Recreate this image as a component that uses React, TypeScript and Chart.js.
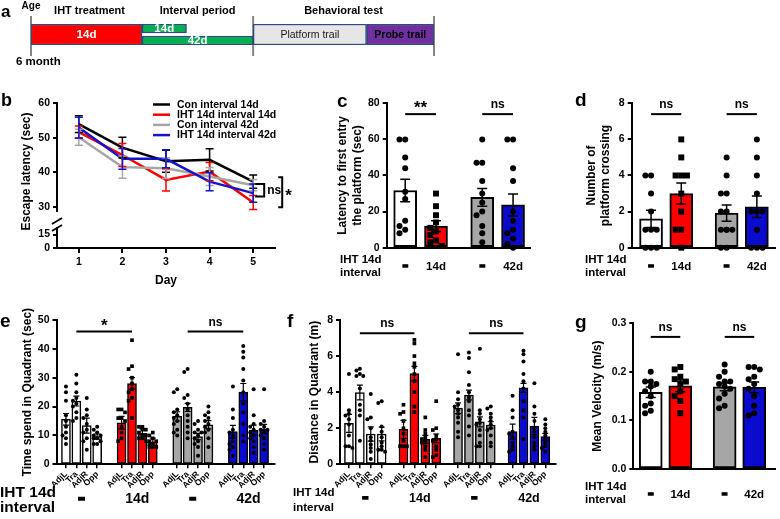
import React, { useEffect, useRef } from 'react';
import { Chart, registerables } from 'chart.js';

Chart.register(...registerables);

const FONT = '"Liberation Sans", Arial, Helvetica, sans-serif';
Chart.defaults.font.family = FONT;
Chart.defaults.color = '#000';
const font = (size: number, bold = true) => `${bold ? 'bold ' : ''}${size}px ${FONT}`;

/* ===================== DATA ===================== */
// Panel a – experimental timeline (schematic units)
const phaseLabels = ['14d', '14d', '42d', 'Platform trail', 'Probe trail'];
const phaseStart = [0, 14, 14, 28, 42.3];
const phaseEnd = [14, 19.6, 28, 42.3, 50.8];
const phaseRow = ['full', 'upper', 'lower', 'full', 'full'];
const phaseHeaders = ['IHT treatment', 'Interval period', 'Behavioral test'];
const phaseHeaderFrom = [0, 14, 28];
const phaseHeaderTo = [14, 28, 50.8];
const timelineMarks = [0, 28, 50.8];
const ageTitle = 'Age';
const ageStart = '6 month';

// Panel b – escape latency
const days = ['1', '2', '3', '4', '5'];
const groupNames = ['Con interval 14d', 'IHT 14d interval 14d', 'Con interval 42d', 'IHT 14d interval 42d'];
const escCon14 = [53.9, 47.1, 43.2, 43.6, 37.3];
const escIht14 = [51.6, 45.0, 37.8, 40.2, 31.3];
const escCon42 = [50.1, 41.5, 41.2, 38.8, 36.3];
const escIht42 = [52.9, 43.9, 43.9, 37.3, 34.0];
const semCon14 = [2.4, 3.0, 3.2, 3.2, 1.9];
const semIht14 = [1.8, 3.3, 3.2, 2.6, 2.0];
const semCon42 = [2.3, 3.2, 3.0, 2.6, 1.6];
const semIht42 = [3.0, 3.0, 2.6, 2.6, 2.6];
const escTicksTop = [30, 40, 50, 60];
const escTicksBottom = [0, 15];
const escSigHigh = [36.6, 38.6];
const escSigLow = [33.0, 29.9];
const escSigText = ['ns', '*'];
const escTitle = 'Escape latency (sec)';
const escXTitle = 'Day';

// shared group labels
const intervalLabels = ['-', '14d', '-', '42d'];
const ihtRowTitle = ['IHT 14d', 'interval'];
const quadrantLabels = ['AdjL', 'Tra', 'AdjR', 'Opp'];

// Panel c – latency to first entry
const latencyTitle = ['Latency to first entry', 'the platform (sec)'];
const latencyMeans = [31.7, 12.0, 27.9, 23.7];
const latencySem = [6.2, 3.0, 4.9, 6.1];
const latencyCon14 = [60, 60, 50, 44, 31, 27, 15, 12, 10, 8];
const latencyIht14 = [30, 23, 18, 14, 11, 9, 7, 4, 3, 1];
const latencyCon42 = [60, 47, 47, 37, 30, 25, 20, 18, 12, 8, 3];
const latencyIht42 = [60, 60, 44, 37, 20, 15, 10, 8, 5, 2, 0];
const latencyTicks = [0, 20, 40, 60, 80];
const latencySigY = [74, 74];
const latencySigText = ['**', 'ns'];

// Panel d – platform crossings
const crossTitle = ['Number of', 'platform crossing'];
const crossMeans = [1.6, 3.0, 1.92, 2.27];
const crossSem = [0.48, 0.58, 0.45, 0.6];
const crossCon14 = [4, 4, 3, 2, 1, 1, 1, 0, 0, 0];
const crossIht14 = [6, 5, 4, 4, 4, 3, 2, 1, 1, 0];
const crossCon42 = [5, 4, 3, 3, 2, 2, 1, 1, 1, 1, 0, 0];
const crossIht42 = [6, 5, 4, 3, 2, 2, 2, 1, 0, 0, 0];
const crossTicks = [0, 2, 4, 6, 8];
const crossSigY = [7.4, 7.4];
const crossSigText = ['ns', 'ns'];

// Panel e – time in quadrant (AdjL, Tra, AdjR, Opp per group)
const timeTitle = 'Time spend in Quadrant (sec)';
const timeMeans = [15.6, 21.9, 13.4, 9.6, 14.4, 28.0, 10.7, 7.8, 16.6, 19.7, 9.6, 13.7, 11.3, 25.0, 11.8, 12.2];
const timeSem = [2.0, 1.7, 2.6, 0.9, 2.2, 2.0, 1.6, 1.3, 1.6, 1.4, 1.1, 1.4, 2.2, 3.0, 1.8, 1.6];
const timeCon14 = [
  [27, 25, 22, 17, 15, 13, 11, 10, 9, 7],
  [31, 28, 25, 23, 22, 21, 20, 18, 16, 15],
  [23, 19, 17, 16, 14, 12, 11, 9, 8, 5],
  [13, 12, 11, 10, 10, 9, 9, 8, 7, 7],
];
const timeIht14 = [
  [19, 19, 18, 16, 16, 15, 13, 11, 9, 8],
  [43, 34, 33, 30, 28, 26, 25, 23, 22, 16],
  [13, 13, 12, 12, 11, 10, 10, 9, 9, 8],
  [11, 10, 9, 8, 8, 7, 7, 6, 6, 6],
];
const timeCon42 = [
  [26, 25, 19, 18, 17, 16, 15, 14, 12, 11, 10],
  [33, 32, 24, 23, 21, 19, 17, 15, 13, 11, 9],
  [15, 14, 12, 11, 11, 10, 9, 8, 7, 6, 3],
  [20, 18, 17, 16, 15, 14, 13, 12, 11, 9, 6],
];
const timeIht42 = [
  [27, 19, 16, 12, 11, 10, 8, 7, 6, 5, 3],
  [41, 39, 37, 33, 29, 25, 21, 18, 14, 10, 8],
  [26, 17, 14, 13, 12, 11, 10, 9, 8, 6, 4],
  [26, 15, 14, 13, 12, 12, 11, 10, 9, 7, 5],
];
const timeTicks = [0, 10, 20, 30, 40, 50];
const timeSigY = [46, 46];
const timeSigText = ['*', 'ns'];

// Panel f – distance in quadrant
const distTitle = 'Distance in Quadrant (m)';
const distMeans = [2.27, 3.98, 1.68, 1.68, 1.94, 5.03, 1.38, 1.44, 3.11, 3.84, 2.35, 2.18, 1.81, 4.24, 2.12, 1.53];
const distSem = [0.5, 0.41, 0.4, 0.38, 0.5, 0.4, 0.22, 0.24, 0.3, 0.27, 0.28, 0.18, 0.42, 0.25, 0.48, 0.19];
const distCon14 = [
  [5.0, 3.0, 2.8, 2.7, 2.5, 2.2, 1.6, 1.0, 1.0, 0.9],
  [5.3, 5.2, 5.0, 4.9, 4.9, 4.2, 3.3, 3.0, 2.7, 1.3],
  [3.9, 2.6, 2.5, 2.0, 1.5, 1.3, 1.1, 0.9, 0.7, 0.3],
  [3.5, 3.4, 2.1, 1.8, 1.5, 1.2, 1.0, 0.8, 0.8, 0.7],
];
const distIht14 = [
  [3.3, 2.9, 2.8, 2.4, 2.0, 1.7, 1.3, 1.0, 1.0, 1.0],
  [6.9, 6.7, 6.0, 5.6, 5.4, 5.0, 4.6, 4.0, 3.2, 2.9],
  [2.6, 1.9, 1.7, 1.5, 1.4, 1.3, 1.2, 1.0, 0.8, 0.4],
  [3.5, 2.0, 1.9, 1.6, 1.4, 1.3, 1.0, 0.8, 0.5, 0.4],
];
const distCon42 = [
  [6.1, 4.0, 3.6, 3.3, 3.2, 3.0, 2.8, 2.6, 2.3, 1.8, 1.5],
  [6.2, 5.9, 5.1, 4.4, 4.0, 3.7, 3.5, 3.0, 2.7, 2.1, 1.6],
  [6.4, 3.0, 2.8, 2.5, 2.3, 2.2, 1.9, 1.6, 1.2, 1.0, 1.0],
  [3.2, 3.1, 2.8, 2.6, 2.4, 2.2, 2.0, 1.9, 1.6, 1.2, 1.0],
];
const distIht42 = [
  [3.8, 3.0, 2.6, 1.8, 1.7, 1.5, 1.2, 1.0, 0.8, 0.7],
  [6.3, 6.1, 5.7, 5.0, 4.6, 4.2, 3.5, 3.0, 2.6, 1.4],
  [4.5, 3.2, 2.8, 2.4, 2.0, 1.8, 1.5, 1.2, 1.0, 0.8],
  [2.5, 2.2, 2.0, 1.8, 1.6, 1.4, 1.2, 1.0, 0.9, 0.7],
];
const distTicks = [0, 2, 4, 6, 8];
const distSigY = [7.26, 7.26];
const distSigText = ['ns', 'ns'];

// Panel g – mean velocity
const velTitle = 'Mean Velocity (m/s)';
const velMeans = [0.158, 0.171, 0.169, 0.168];
const velSem = [0.011, 0.012, 0.008, 0.011];
const velCon14 = [0.2, 0.18, 0.18, 0.175, 0.17, 0.16, 0.15, 0.135, 0.13, 0.12, 0.115];
const velIht14 = [0.21, 0.205, 0.19, 0.185, 0.18, 0.175, 0.16, 0.15, 0.14, 0.115];
const velCon42 = [0.215, 0.2, 0.19, 0.18, 0.18, 0.175, 0.17, 0.165, 0.155, 0.145, 0.13, 0.125];
const velIht42 = [0.21, 0.21, 0.205, 0.19, 0.185, 0.175, 0.165, 0.15, 0.13, 0.11, 0.115];
const velTicks = [0, 0.1, 0.2, 0.3];
const velSigY = [0.272, 0.272];
const velSigText = ['ns', 'ns'];

/* ===================== STYLE ===================== */
const groupFills = ['#ffffff', '#ff0000', '#a6a6a6', '#0b0bd0'];
const groupShapes = ['circle', 'rect', 'circle', 'circle'];
const lineColors = ['#000000', '#ff0000', '#a6a6a6', '#1414c8'];

const pairPositions = [0, 1].flatMap((g) => [0, 1].map((m) => g * 2.5 + m));
const quadPositions = (gap: number) => [0, 1, 2, 3].flatMap((g) => [0, 1, 2, 3].map((m) => g * gap + m));
const quadCenters = (gap: number) => [0, 1, 2, 3].map((g) => g * gap + 1.5);
const perBar = (arr: any[]) => arr.flatMap((v) => [v, v, v, v]);

/* ===================== HELPERS ===================== */
function swarm(values: number[], center: number, pxX: number, pxY: number, diam: number, halfPx: number) {
  const placed: { dx: number; py: number }[] = [];
  const out: any[] = new Array(values.length);
  const order = values.map((_, i) => i).sort((a, b) => values[b] - values[a] || a - b);
  const step = diam * 0.95;
  for (const i of order) {
    const py = values[i] * pxY;
    const cands: number[] = [0];
    for (let k = 1; k * step <= halfPx + 0.01; k++) cands.push(-k * step, k * step);
    let best = 0;
    let bestGap = -1;
    for (const c of cands) {
      let minD = Infinity;
      for (const p of placed) minD = Math.min(minD, Math.hypot(p.dx - c, p.py - py));
      if (minD >= diam) {
        best = c;
        break;
      }
      if (minD > bestGap) {
        bestGap = minD;
        best = c;
      }
    }
    placed.push({ dx: best, py });
    out[i] = { x: center + best / pxX, y: values[i] };
  }
  return out;
}

function ChartBox({ left, top, width, height, build }: any) {
  const ref = useRef<HTMLCanvasElement>(null);
  useEffect(() => {
    const chart = new Chart(ref.current as HTMLCanvasElement, build());
    return () => chart.destroy();
  }, []);
  return (
    <canvas
      ref={ref}
      width={width}
      height={height}
      style={{ position: 'absolute', left, top, width, height }}
    />
  );
}

/* ===================== PANEL a ===================== */
function timelineConfig() {
  const W = 460;
  const H = 72;
  const area = { left: 31, top: 24, right: 434, bottom: 45 };
  const fills = ['#ff0000', '#00b050', '#00b050', '#e7e6e6', '#7030a0'];
  const textColor = ['#ffffff', '#ffffff', '#ffffff', '#1a1a1a', '#000000'];
  const textFont = [font(11.5), font(11.5), font(11.5), font(10.5, false), font(10.5)];
  const rowY: any = { full: 0.5, upper: 0.786, lower: 0.214 };
  const rowThick: any = { full: 21, upper: 9, lower: 9 };
  const datasets = ['full', 'upper', 'lower'].map((k) => {
    const idx = phaseRow.map((r, i) => (r === k ? i : -1)).filter((i) => i >= 0);
    return {
      type: 'bar',
      data: idx.map((i) => ({ x: [phaseStart[i], phaseEnd[i]], y: rowY[k] })),
      backgroundColor: idx.map((i) => fills[i]),
      borderColor: '#2f4b7c',
      borderWidth: 1.5,
      borderSkipped: false,
      barThickness: rowThick[k],
      grouped: false,
      phaseIdx: idx,
    };
  });
  const deco = {
    id: 'timelineDeco',
    beforeDatasetsDraw(chart: any) {
      const { ctx, chartArea: ca } = chart;
      const xs = chart.scales.x;
      ctx.save();
      ctx.strokeStyle = '#858585';
      ctx.lineWidth = 2;
      timelineMarks.forEach((v) => {
        const px = xs.getPixelForValue(v);
        ctx.beginPath();
        ctx.moveTo(px, ca.top - 8);
        ctx.lineTo(px, ca.bottom + 11);
        ctx.stroke();
      });
      ctx.restore();
    },
    afterDatasetsDraw(chart: any) {
      const { ctx, chartArea: ca } = chart;
      const xs = chart.scales.x;
      ctx.save();
      chart.data.datasets.forEach((ds: any, di: number) => {
        const meta = chart.getDatasetMeta(di);
        meta.data.forEach((el: any, j: number) => {
          const idx = ds.phaseIdx[j];
          const p = el.getProps(['x', 'base', 'y'], true);
          ctx.fillStyle = textColor[idx];
          ctx.font = textFont[idx];
          ctx.textAlign = 'center';
          ctx.textBaseline = 'middle';
          ctx.fillText(phaseLabels[idx], (p.x + p.base) / 2, p.y + 0.5);
        });
      });
      ctx.fillStyle = '#000';
      ctx.font = font(11);
      ctx.textAlign = 'center';
      ctx.textBaseline = 'middle';
      phaseHeaders.forEach((t, i) => {
        const px = (xs.getPixelForValue(phaseHeaderFrom[i]) + xs.getPixelForValue(phaseHeaderTo[i])) / 2;
        ctx.fillText(t, px + (i === 0 ? 3 : 0), ca.top - 13);
      });
      const x0 = xs.getPixelForValue(timelineMarks[0]);
      ctx.font = font(10);
      ctx.fillText(ageTitle, x0, ca.top - 18);
      ctx.font = font(11.5);
      ctx.textAlign = 'left';
      ctx.fillText(ageStart, x0 - 15, ca.bottom + 17);
      ctx.font = font(17);
      ctx.fillText('a', 1, 12);
      ctx.restore();
    },
  };
  return {
    type: 'bar',
    data: { datasets },
    options: {
      indexAxis: 'y',
      responsive: false,
      animation: false,
      events: [],
      layout: { padding: { left: area.left, right: W - area.right, top: area.top, bottom: H - area.bottom } },
      plugins: { legend: { display: false }, tooltip: { enabled: false } },
      scales: {
        x: { type: 'linear', min: phaseStart[0], max: phaseEnd[4], display: false },
        y: { type: 'linear', min: 0, max: 1, display: false, offset: false },
      },
    },
    plugins: [deco],
  };
}

/* ===================== PANEL b ===================== */
function escapeConfig() {
  const W = 310;
  const H = 210;
  const xAxisH = 40;
  const area = { left: 57, top: 23, right: 275, bottom: 168 };
  const series = [escCon14, escIht14, escCon42, escIht42];
  const sems = [semCon14, semIht14, semCon42, semIht42];
  const datasets = series.map((d, i) => ({
    type: 'line',
    label: groupNames[i],
    data: d,
    borderColor: lineColors[i],
    backgroundColor: lineColors[i],
    borderWidth: 2.5,
    pointRadius: 0,
    tension: 0,
    yAxisID: 'y',
    sem: sems[i],
    order: 4 - i,
  }));
  const yCommon = {
    type: 'linear',
    position: 'left',
    stack: 'esc',
    afterFit: (sc: any) => {
      sc.width = area.left;
    },
    border: { display: true, color: '#000', width: 2 },
    grid: { display: true, drawOnChartArea: false, drawTicks: true, tickLength: 4, color: '#000', lineWidth: 2 },
    ticks: { font: { size: 10.5, weight: 'bold' }, color: '#000', padding: 3 },
  };
  const deco = {
    id: 'escDeco',
    afterDatasetsDraw(chart: any) {
      const { ctx } = chart;
      const ys = chart.scales.y;
      ctx.save();
      chart.data.datasets.forEach((ds: any, i: number) => {
        const meta = chart.getDatasetMeta(i);
        ctx.strokeStyle = ds.borderColor;
        ctx.lineWidth = 1.5;
        meta.data.forEach((pt: any, j: number) => {
          const yt = ys.getPixelForValue(ds.data[j] + ds.sem[j]);
          const yb = ys.getPixelForValue(ds.data[j] - ds.sem[j]);
          ctx.beginPath();
          ctx.moveTo(pt.x, yt);
          ctx.lineTo(pt.x, yb);
          ctx.moveTo(pt.x - 4, yt);
          ctx.lineTo(pt.x + 4, yt);
          ctx.moveTo(pt.x - 4, yb);
          ctx.lineTo(pt.x + 4, yb);
          ctx.stroke();
        });
      });
      ctx.restore();
    },
    afterDraw(chart: any) {
      const { ctx, chartArea: ca } = chart;
      const ys = chart.scales.y;
      const xs = chart.scales.x;
      ctx.save();
      // axis break
      ctx.fillStyle = '#fff';
      ctx.fillRect(ca.left - 3, ys.bottom - 4, 6, 15);
      ctx.strokeStyle = '#000';
      ctx.lineWidth = 1.8;
      [ys.bottom + 5, ys.bottom + 12].forEach((c) => {
        ctx.beginPath();
        ctx.moveTo(ca.left - 5, c + 3);
        ctx.lineTo(ca.left + 5, c - 3);
        ctx.stroke();
      });
      // significance brackets at day 5
      const x5 = xs.getPixelForValue(days.length - 1);
      const br = [
        { x0: x5 + 2, x1: x5 + 11, tx: x5 + 14 },
        { x0: x5 + 25, x1: x5 + 29, tx: x5 + 32 },
      ];
      ctx.lineWidth = 2;
      ctx.fillStyle = '#000';
      escSigText.forEach((t, i) => {
        const yh = ys.getPixelForValue(escSigHigh[i]);
        const yl = ys.getPixelForValue(escSigLow[i]);
        ctx.beginPath();
        ctx.moveTo(br[i].x0, yh);
        ctx.lineTo(br[i].x1, yh);
        ctx.lineTo(br[i].x1, yl);
        ctx.lineTo(br[i].x0, yl);
        ctx.stroke();
        const star = t.includes('*');
        ctx.font = font(star ? 17 : 12);
        ctx.textAlign = 'left';
        ctx.textBaseline = 'middle';
        ctx.fillText(t, br[i].tx, (yh + yl) / 2 + (star ? 4 : 0));
      });
      // legend
      const lx = ca.left + 96;
      groupNames.forEach((n, i) => {
        const ly = ca.top + 1.5 + i * 10.2;
        ctx.strokeStyle = lineColors[i];
        ctx.lineWidth = 2.5;
        ctx.beginPath();
        ctx.moveTo(lx, ly);
        ctx.lineTo(lx + 17, ly);
        ctx.stroke();
        ctx.fillStyle = '#000';
        ctx.font = font(10.5);
        ctx.textAlign = 'left';
        ctx.textBaseline = 'middle';
        ctx.fillText(n, lx + 24, ly + 0.5);
      });
      // y title
      ctx.save();
      ctx.translate(ca.left - 30, (ca.top + ca.bottom) / 2 - 4);
      ctx.rotate(-Math.PI / 2);
      ctx.font = font(12);
      ctx.textAlign = 'center';
      ctx.textBaseline = 'middle';
      ctx.fillText(escTitle, 0, 0);
      ctx.restore();
      // panel letter
      ctx.font = font(18);
      ctx.textAlign = 'left';
      ctx.textBaseline = 'middle';
      ctx.fillText('b', 1, 21);
      ctx.restore();
    },
  };
  return {
    type: 'line',
    data: { labels: days, datasets },
    options: {
      responsive: false,
      animation: false,
      events: [],
      layout: { padding: { left: 0, top: area.top, right: W - area.right, bottom: H - area.bottom - xAxisH } },
      plugins: { legend: { display: false }, tooltip: { enabled: false } },
      scales: {
        x: {
          type: 'category',
          offset: true,
          afterFit: (sc: any) => {
            sc.height = xAxisH;
          },
          border: { display: true, color: '#000', width: 2 },
          grid: { display: true, drawOnChartArea: false, offset: false, tickLength: 5, color: '#000', lineWidth: 2 },
          ticks: { font: { size: 10.5, weight: 'bold' }, color: '#000', padding: 3 },
          title: { display: true, text: escXTitle, font: { size: 12, weight: 'bold' }, color: '#000', padding: { top: 0, bottom: 0 } },
        },
        yLow: {
          ...yCommon,
          stackWeight: 32,
          min: 0,
          max: 35.8,
          afterBuildTicks: (sc: any) => {
            sc.ticks = escTicksBottom.map((v) => ({ value: v }));
          },
        },
        y: {
          ...yCommon,
          stackWeight: 113,
          min: 27.4,
          max: 60,
          afterBuildTicks: (sc: any) => {
            sc.ticks = escTicksTop.map((v) => ({ value: v }));
          },
        },
      },
    },
    plugins: [deco],
  };
}

/* ===================== BAR PANELS (c–g) ===================== */
function barPanelConfig(s: any) {
  const { area, W, H } = s;
  const aw = area.right - area.left;
  const ah = area.bottom - area.top;
  const pxX = aw / (s.xMax - s.xMin);
  const pxY = ah / (s.yMax - s.yMin);
  const bars = {
    type: 'bar',
    data: s.positions.map((x: number, i: number) => ({ x, y: s.means[i] })),
    backgroundColor: s.fills,
    borderColor: '#000',
    borderWidth: s.barBorder,
    borderSkipped: false,
    barThickness: s.barThickness,
    order: 3,
  };
  const dotSets = s.dots.map((vals: number[], i: number) => ({
    type: 'scatter',
    data: swarm(vals, s.positions[i], pxX, pxY, s.dotDiam, s.swarmHalf),
    pointStyle: s.shapes[i],
    pointRadius: s.shapes[i] === 'rect' ? s.rectR : s.dotR,
    pointBackgroundColor: '#000',
    pointBorderColor: '#000',
    pointBorderWidth: 0,
    clip: false,
    order: 1,
  }));
  const deco = {
    id: 'barDeco',
    afterDatasetsDraw(chart: any) {
      const { ctx } = chart;
      const xs = chart.scales.x;
      const ys = chart.scales.y;
      ctx.save();
      ctx.strokeStyle = '#000';
      ctx.lineWidth = s.errWidth;
      s.positions.forEach((p: number, i: number) => {
        const x = xs.getPixelForValue(p);
        const yt = ys.getPixelForValue(s.means[i] + s.sems[i]);
        const yb = ys.getPixelForValue(s.means[i] - s.sems[i]);
        ctx.beginPath();
        ctx.moveTo(x, yt);
        ctx.lineTo(x, yb);
        ctx.moveTo(x - s.capHalf, yt);
        ctx.lineTo(x + s.capHalf, yt);
        ctx.moveTo(x - s.capHalf, yb);
        ctx.lineTo(x + s.capHalf, yb);
        ctx.stroke();
      });
      ctx.restore();
    },
    afterDraw(chart: any) {
      const { ctx, chartArea: ca } = chart;
      const xs = chart.scales.x;
      const ys = chart.scales.y;
      ctx.save();
      ctx.strokeStyle = '#000';
      ctx.fillStyle = '#000';
      ctx.lineWidth = 2;
      s.sigFrom.forEach((f: number, i: number) => {
        const x1 = xs.getPixelForValue(s.positions[f]);
        const x2 = xs.getPixelForValue(s.positions[s.sigTo[i]]);
        const y = ys.getPixelForValue(s.sigY[i]);
        ctx.beginPath();
        ctx.moveTo(x1, y);
        ctx.lineTo(x2, y);
        ctx.stroke();
        const star = s.sigText[i].includes('*');
        ctx.font = font(star ? 17 : 12);
        ctx.textAlign = 'center';
        ctx.textBaseline = 'alphabetic';
        ctx.fillText(s.sigText[i], (x1 + x2) / 2, star ? y - 1 : y - 6);
      });
      ctx.textBaseline = 'middle';
      ctx.textAlign = 'center';
      s.groupLabels.forEach((t: string, g: number) => {
        const x = xs.getPixelForValue(s.groupCenters[g]);
        const dash = t === '-';
        ctx.font = font(dash ? s.groupFont * 1.6 : s.groupFont);
        const y = ca.bottom + s.groupDy + (dash ? -1 : 0);
        ctx.fillText(t, x, y);
        if (dash) {
          ctx.lineWidth = 1.3;
          ctx.strokeText(t, x, y);
        }
      });
      ctx.textAlign = 'left';
      ctx.font = font(s.ihtFont);
      ihtRowTitle.forEach((t, k) => ctx.fillText(t, ca.left + s.ihtDx, ca.bottom + s.ihtDy[k]));
      ctx.font = font(s.letterSize);
      ctx.fillText(s.letter, s.letterX, s.letterY);
      ctx.restore();
    },
  };
  const xScale = s.quad
    ? {
        type: 'linear',
        min: s.xMin,
        max: s.xMax,
        offset: false,
        afterBuildTicks: (sc: any) => {
          sc.ticks = s.positions.map((v: number) => ({ value: v }));
        },
        afterFit: (sc: any) => {
          sc.height = s.xAxisH;
        },
        ticks: {
          autoSkip: false,
          minRotation: 45,
          maxRotation: 45,
          padding: 1,
          font: { size: s.tickFont, weight: 'bold' },
          color: '#000',
          callback: (_v: any, i: number) => s.tickLabels[i],
        },
        grid: { display: true, drawOnChartArea: false, drawTicks: true, offset: false, tickLength: 4, color: '#000', lineWidth: 1.5 },
        border: { display: true, color: '#000', width: 2 },
      }
    : {
        type: 'linear',
        min: s.xMin,
        max: s.xMax,
        offset: false,
        afterFit: (sc: any) => {
          sc.height = s.xAxisH;
        },
        ticks: { display: false },
        grid: { display: false, drawTicks: false, offset: false },
        border: { display: true, color: '#000', width: 2 },
      };
  return {
    type: 'bar',
    data: { datasets: [bars, ...dotSets] },
    options: {
      responsive: false,
      animation: false,
      events: [],
      layout: { padding: { left: 0, top: area.top, right: W - area.right, bottom: H - area.bottom - s.xAxisH } },
      plugins: { legend: { display: false }, tooltip: { enabled: false } },
      scales: {
        x: xScale,
        y: {
          type: 'linear',
          min: s.yMin,
          max: s.yMax,
          afterBuildTicks: (sc: any) => {
            sc.ticks = s.yTicks.map((v: number) => ({ value: v }));
          },
          afterFit: (sc: any) => {
            sc.width = area.left;
          },
          border: { display: true, color: '#000', width: 2 },
          grid: { display: true, drawOnChartArea: false, drawTicks: true, tickLength: 4, color: '#000', lineWidth: 2 },
          ticks: {
            font: { size: s.yTickFont, weight: 'bold' },
            color: '#000',
            padding: 3,
            callback: (v: any) => (s.yFmt ? s.yFmt(v) : String(v)),
          },
          title: {
            display: true,
            text: s.yTitle,
            font: { size: 12, weight: 'bold' },
            color: '#000',
            padding: { top: s.yTitlePad, bottom: 0 },
          },
        },
      },
    },
    plugins: [deco],
  };
}

const wideBarStyle = {
  barThickness: 23,
  barBorder: 2,
  errWidth: 1.5,
  capHalf: 5,
  dotR: 3,
  rectR: 4.2,
  dotDiam: 6,
  swarmHalf: 8,
  fills: groupFills,
  shapes: groupShapes,
  quad: false,
  groupLabels: intervalLabels,
  groupCenters: pairPositions,
  positions: pairPositions,
  sigFrom: [0, 2],
  sigTo: [1, 3],
  yTickFont: 10.5,
};

const narrowBarStyle = {
  barThickness: 9,
  barBorder: 1.5,
  errWidth: 1.2,
  capHalf: 3,
  dotR: 2,
  rectR: 2.6,
  dotDiam: 3.6,
  swarmHalf: 4,
  fills: perBar(groupFills),
  shapes: perBar(groupShapes),
  quad: true,
  groupLabels: intervalLabels,
  tickLabels: [0, 1, 2, 3].flatMap(() => quadrantLabels),
  tickFont: 8.5,
  sigFrom: [1, 9],
  sigTo: [5, 13],
  yTickFont: 10.5,
};

const latencySpec = () => ({
  ...wideBarStyle,
  W: 235,
  H: 210,
  xAxisH: 40,
  area: { left: 86.7, top: 23.3, right: 230, bottom: 167.7 },
  xMin: -0.6,
  xMax: 4.05,
  yMin: 0,
  yMax: 80,
  yTicks: latencyTicks,
  yTitle: latencyTitle,
  yTitlePad: 35.8,
  means: latencyMeans,
  sems: latencySem,
  dots: [latencyCon14, latencyIht14, latencyCon42, latencyIht42],
  sigY: latencySigY,
  sigText: latencySigText,
  groupDy: 19,
  groupFont: 11.5,
  ihtDx: -46.7,
  ihtDy: [12.3, 25.3],
  ihtFont: 11.5,
  letter: 'c',
  letterX: 37,
  letterY: 22,
  letterSize: 19,
});

const crossSpec = () => ({
  ...wideBarStyle,
  W: 240,
  H: 210,
  xAxisH: 40,
  area: { left: 91.7, top: 23.3, right: 235, bottom: 167.7 },
  xMin: -0.64,
  xMax: 4.1,
  yMin: 0,
  yMax: 8,
  yTicks: crossTicks,
  yTitle: crossTitle,
  yTitlePad: 44.5,
  means: crossMeans,
  sems: crossSem,
  dots: [crossCon14, crossIht14, crossCon42, crossIht42],
  sigY: crossSigY,
  sigText: crossSigText,
  groupDy: 19,
  groupFont: 11.5,
  ihtDx: -46.7,
  ihtDy: [12.3, 25.3],
  ihtFont: 11.5,
  letter: 'd',
  letterX: 35,
  letterY: 21,
  letterSize: 19,
});

const velSpec = () => ({
  ...wideBarStyle,
  W: 220,
  H: 229,
  xAxisH: 45,
  area: { left: 73.3, top: 33.3, right: 218, bottom: 179 },
  xMin: -0.59,
  xMax: 4.23,
  yMin: 0,
  yMax: 0.3,
  yTicks: velTicks,
  yFmt: (v: number) => v.toFixed(1),
  yTitle: velTitle,
  yTitlePad: 30.8,
  means: velMeans,
  sems: velSem,
  dots: [velCon14, velIht14, velCon42, velIht42],
  sigY: velSigY,
  sigText: velSigText,
  groupDy: 26,
  groupFont: 11.5,
  ihtDx: -48.3,
  ihtDy: [18.3, 31],
  ihtFont: 11.5,
  letter: 'g',
  letterX: 15,
  letterY: 33,
  letterSize: 19,
});

const timeSpec = () => ({
  ...narrowBarStyle,
  W: 285,
  H: 229,
  xAxisH: 30,
  area: { left: 56.5, top: 30, right: 275, bottom: 174.3 },
  positions: quadPositions(5.35),
  groupCenters: quadCenters(5.35),
  xMin: -0.91,
  xMax: 20.1,
  yMin: 0,
  yMax: 50,
  yTicks: timeTicks,
  yTitle: timeTitle,
  yTitlePad: 20.8,
  means: timeMeans,
  sems: timeSem,
  dots: [...timeCon14, ...timeIht14, ...timeCon42, ...timeIht42],
  sigY: timeSigY,
  sigText: timeSigText,
  groupDy: 35,
  groupFont: 14,
  ihtDx: -56.5,
  ihtDy: [28.7, 43.7],
  ihtFont: 15.5,
  letter: 'e',
  letterX: 0,
  letterY: 31.5,
  letterSize: 19,
});

const distSpec = () => ({
  ...narrowBarStyle,
  W: 275,
  H: 229,
  xAxisH: 30,
  area: { left: 55, top: 30, right: 271.7, bottom: 174.3 },
  positions: quadPositions(5),
  groupCenters: quadCenters(5),
  xMin: -0.82,
  xMax: 18.98,
  yMin: 0,
  yMax: 8,
  yTicks: distTicks,
  yTitle: distTitle,
  yTitlePad: 22.8,
  means: distMeans,
  sems: distSem,
  dots: [...distCon14, ...distIht14, ...distCon42, ...distIht42],
  sigY: distSigY,
  sigText: distSigText,
  groupDy: 34,
  groupFont: 12.5,
  ihtDx: -47,
  ihtDy: [29, 43.7],
  ihtFont: 11.5,
  letter: 'f',
  letterX: 2,
  letterY: 31.5,
  letterSize: 19,
});

/* ===================== APP ===================== */
export default function App() {
  return (
    <div style={{ position: 'absolute', left: 0, top: 0, width: 780, height: 519, background: '#fff', overflow: 'hidden' }}>
      <ChartBox left={0} top={0} width={460} height={72} build={timelineConfig} />
      <ChartBox left={0} top={80} width={310} height={210} build={escapeConfig} />
      <ChartBox left={300} top={80} width={235} height={210} build={() => barPanelConfig(latencySpec())} />
      <ChartBox left={540} top={80} width={240} height={210} build={() => barPanelConfig(crossSpec())} />
      <ChartBox left={0} top={290} width={285} height={229} build={() => barPanelConfig(timeSpec())} />
      <ChartBox left={285} top={290} width={275} height={229} build={() => barPanelConfig(distSpec())} />
      <ChartBox left={560} top={290} width={220} height={229} build={() => barPanelConfig(velSpec())} />
    </div>
  );
}
